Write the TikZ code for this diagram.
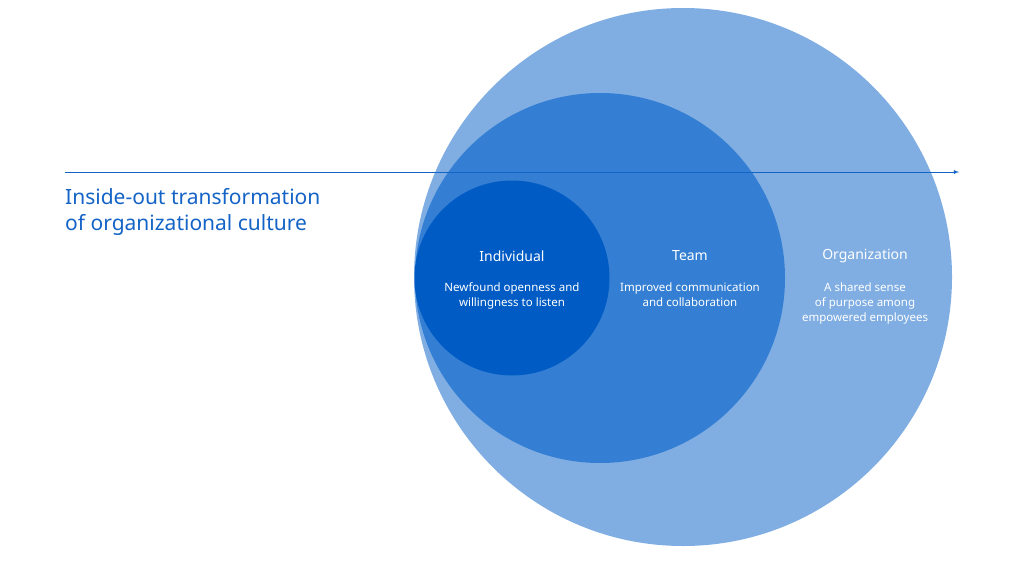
\documentclass[tikz,border=0pt]{standalone}
\usepackage{fontspec}
\setmainfont{Noto Sans}
\usetikzlibrary{positioning}
\definecolor{orgBlue}{HTML}{80AEE3}
\definecolor{teamBlue}{HTML}{347FD3}
\definecolor{indBlue}{HTML}{005BC4}
\definecolor{titleBlue}{HTML}{1463C6}
\tikzset{ring/.style={circle, inner sep=0pt}}
\tikzset{head/.style={text=white, font=\fontsize{14}{16}\selectfont\bfseries}}
\tikzset{body/.style={text=white, align=center, font=\fontsize{11.5}{15}\selectfont}}
\begin{document}
\begin{tikzpicture}[x=1pt, y=-1pt]
\useasboundingbox (0,0) rectangle (1024,575);

\node[ring, fill=orgBlue, minimum size=538pt] (org) at (683,277) {};
\node[ring, fill=teamBlue, minimum size=370pt] (team) at (600,278) {};
\node[ring, fill=indBlue, minimum size=195pt] (ind) at (512,278) {};

\coordinate (start) at (65,172);
\coordinate (stop) at (959,172);
\draw[titleBlue, line width=0.8pt, -latex] (start) -- (stop);

\node[anchor=north west, text=titleBlue, align=left, inner sep=0pt,
  font=\fontsize{21}{26}\selectfont] (title) at (65,188)
  {Inside-out transformation\\of organizational culture};

\node[head] (indHead) at (512,256) {Individual};
\node[body, anchor=north] (indBody) at (512,279) {Newfound openness and\\willingness to listen};

\node[head] (teamHead) at (690,256) {Team};
\node[body, anchor=north] (teamBody) at (690,279) {Improved communication\\and collaboration};

\node[head] (orgHead) at (865,256) {Organization};
\node[body, anchor=north] (orgBody) at (865,279) {A shared sense\\of purpose among\\empowered employees};
\end{tikzpicture}
\end{document}
